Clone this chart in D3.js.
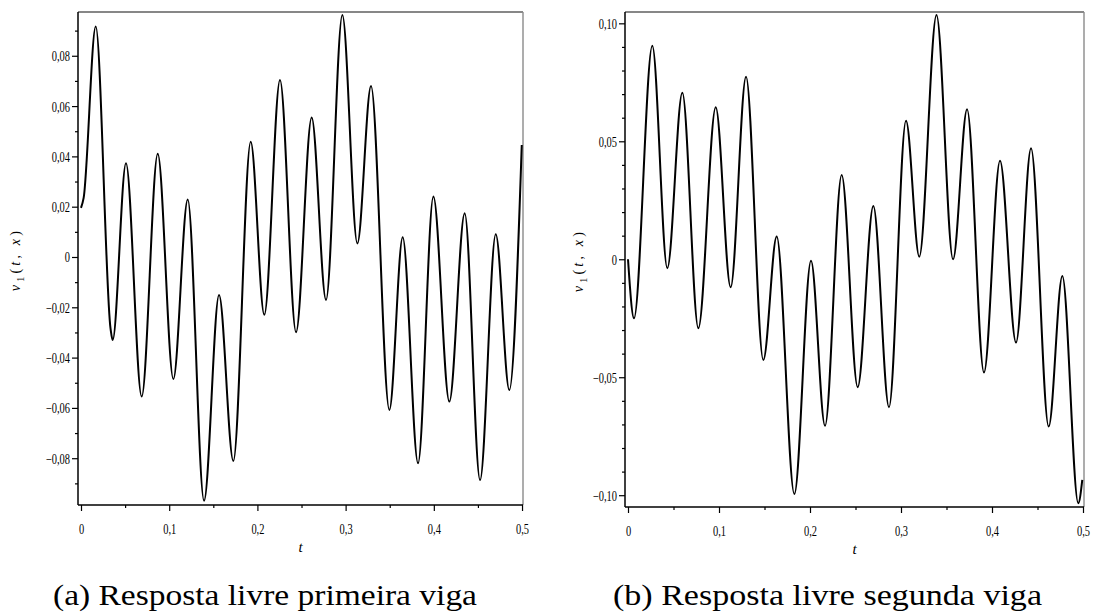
<!DOCTYPE html>
<html>
<head>
<meta charset="utf-8">
<script src="https://cdn.jsdelivr.net/npm/d3@7/dist/d3.min.js"></script>
<style>
  html, body { margin: 0; padding: 0; background: #fff; }
  svg { display: block; }
</style>
</head>
<body>
<svg id="fig" width="1093" height="616"></svg>
<script>
// ---- (a) first beam: free response v1(t, x) ----
const timeA = [0, 0.003, 0.0167, 0.0335, 0.0359, 0.051, 0.0688, 0.087, 0.1047, 0.121,
  0.1395, 0.1565, 0.1727, 0.1924, 0.2078, 0.2256, 0.2438, 0.2615, 0.2778, 0.2963,
  0.3133, 0.3288, 0.3496, 0.3647, 0.3821, 0.3995, 0.4176, 0.435, 0.4524, 0.4702,
  0.4856, 0.4997];
const valueA = [0.0195, 0.0235, 0.0916, -0.0285, -0.033, 0.0373, -0.0555, 0.041, -0.0485, 0.0229,
  -0.0969, -0.0151, -0.0811, 0.0458, -0.023, 0.0704, -0.0299, 0.0555, -0.0171, 0.0962,
  0.0054, 0.068, -0.0608, 0.0078, -0.082, 0.024, -0.0575, 0.0174, -0.0887, 0.009,
  -0.0529, 0.0445];

// ---- (b) second beam: free response v1(t, x) ----
const timeB = [0, 0.0066, 0.0267, 0.0432, 0.0597, 0.0773, 0.0964, 0.1128, 0.1297, 0.1487,
  0.1634, 0.1828, 0.2011, 0.2165, 0.2348, 0.2524, 0.2696, 0.2868, 0.3055, 0.3201,
  0.339, 0.3572, 0.3726, 0.3912, 0.4088, 0.4264, 0.4429, 0.4623, 0.4773, 0.4948,
  0.4992];
const valueB = [0, -0.025, 0.0905, -0.0038, 0.0706, -0.0292, 0.0644, -0.0119, 0.0774, -0.0427,
  0.0096, -0.0995, -0.0006, -0.0706, 0.0357, -0.0542, 0.0226, -0.0627, 0.0587, 0.0011,
  0.1035, 0.0, 0.0636, -0.048, 0.0418, -0.0353, 0.047, -0.0709, -0.0071, -0.1034,
  -0.0935];

// axis extents
const xDomainA = [-0.0034, 0.5011];
const yDomainA = [-0.0986, 0.0974];
const xDomainB = [-0.0033, 0.5011];
const yDomainB = [-0.1050, 0.1048];

// ticks and labels (decimal comma)
const xTicks = [0, 0.1, 0.2, 0.3, 0.4, 0.5];
const xTickLabels = ["0", "0,1", "0,2", "0,3", "0,4", "0,5"];
const xMinorTicks = [0.05, 0.15, 0.25, 0.35, 0.45];

const yTicksA = [-0.08, -0.06, -0.04, -0.02, 0, 0.02, 0.04, 0.06, 0.08];
const yTickLabelsA = ["\u22120,08", "\u22120,06", "\u22120,04", "\u22120,02", "0", "0,02", "0,04", "0,06", "0,08"];
const yMinorA = [-0.09, -0.07, -0.05, -0.03, -0.01, 0.01, 0.03, 0.05, 0.07, 0.09];

const yTicksB = [-0.10, -0.05, 0, 0.05, 0.10];
const yTickLabelsB = ["\u22120,10", "\u22120,05", "0", "0,05", "0,10"];
const yMinorB = [-0.09, -0.08, -0.07, -0.06, -0.04, -0.03, -0.02, -0.01,
  0.01, 0.02, 0.03, 0.04, 0.06, 0.07, 0.08, 0.09];

const captions = ["(a) Resposta livre primeira viga", "(b) Resposta livre segunda viga"];

const svg = d3.select("#fig");
svg.append("rect").attr("width", 1093).attr("height", 616).attr("fill", "#fff");

const SQUEEZE = 0.72;           // condensed tick-label face
const TICK_FONT = "'Liberation Serif', 'Times New Roman', serif";

function panel(cfg) {
  const { box, xDomain, yDomain, times, values, yTicks, yLabels, yMinor, caption, captionX, captionW } = cfg;
  const x = d3.scaleLinear().domain(xDomain).range([box.left, box.right]);
  const y = d3.scaleLinear().domain(yDomain).range([box.bottom, box.top]);
  const g = svg.append("g");

  // frame: top and right edges
  g.append("line").attr("x1", box.left).attr("x2", box.right).attr("y1", box.top).attr("y2", box.top)
    .attr("stroke", "#111").attr("stroke-width", 1.2);
  g.append("line").attr("x1", box.right).attr("x2", box.right).attr("y1", box.top).attr("y2", box.bottom)
    .attr("stroke", "#8a8a8a").attr("stroke-width", 1.4);

  // curve
  const pts = times.map((t, i) => [t, values[i]]);
  g.append("path")
    .datum(pts)
    .attr("fill", "none")
    .attr("stroke", "#000")
    .attr("stroke-width", 2)
    .attr("stroke-linejoin", "round")
    .attr("d", d3.line().x(d => x(d[0])).y(d => y(d[1])).curve(d3.curveMonotoneX));

  // left axis: major + minor ticks
  const yAx = g.append("g").attr("transform", `translate(${box.left},0)`)
    .call(d3.axisLeft(y).tickValues(yTicks).tickFormat((d, i) => yLabels[i]).tickSize(6).tickPadding(2).tickSizeOuter(0));
  g.append("g").attr("transform", `translate(${box.left},0)`)
    .call(d3.axisLeft(y).tickValues(yMinor).tickFormat("").tickSize(3).tickSizeOuter(0))
    .call(s => s.select(".domain").remove());

  // bottom axis: major + minor ticks
  const xAx = g.append("g").attr("transform", `translate(0,${box.bottom})`)
    .call(d3.axisBottom(x).tickValues(xTicks).tickFormat((d, i) => xTickLabels[i]).tickSize(6).tickSizeOuter(0));
  g.append("g").attr("transform", `translate(0,${box.bottom})`)
    .call(d3.axisBottom(x).tickValues(xMinorTicks).tickFormat("").tickSize(3).tickSizeOuter(0))
    .call(s => s.select(".domain").remove());

  g.selectAll(".domain").remove();
  g.selectAll(".tick line").attr("stroke", "#000").attr("stroke-width", 1.2);

  // axis lines
  g.append("line").attr("x1", box.left).attr("x2", box.left).attr("y1", box.top).attr("y2", box.bottom)
    .attr("stroke", "#000").attr("stroke-width", 1.5);
  g.append("line").attr("x1", box.left).attr("x2", box.right).attr("y1", box.bottom).attr("y2", box.bottom)
    .attr("stroke", "#000").attr("stroke-width", 1.5);

  yAx.selectAll(".tick text")
    .attr("x", -8 / SQUEEZE)
    .attr("dy", "0.34em")
    .attr("transform", `scale(${SQUEEZE},1)`)
    .attr("fill", "#000")
    .style("font-family", TICK_FONT).style("font-size", "14.5px");
  xAx.selectAll(".tick text")
    .attr("y", 29).attr("dy", 0)
    .attr("transform", `scale(${SQUEEZE},1)`)
    .attr("fill", "#000")
    .style("font-family", TICK_FONT).style("font-size", "14.5px");

  // axis titles
  const cx = (box.left + box.right) / 2;
  g.append("text").attr("x", cx).attr("y", box.bottom + 47).attr("text-anchor", "middle")
    .style("font-family", TICK_FONT).style("font-style", "italic").style("font-size", "15px")
    .text("t");

  const yl = g.append("text")
    .attr("transform", `translate(${cfg.yLabelX},${(box.top + box.bottom) / 2 + 1}) rotate(-90)`)
    .attr("text-anchor", "middle")
    .style("font-family", TICK_FONT).style("font-size", "14px").style("letter-spacing", "3.2px");
  yl.append("tspan").style("font-style", "italic").text("v");
  yl.append("tspan").attr("dy", 4).style("font-size", "10px").text("1");
  yl.append("tspan").attr("dy", -4).text("(");
  yl.append("tspan").style("font-style", "italic").text("t");
  yl.append("tspan").text(",");
  yl.append("tspan").style("font-style", "italic").text(" x");
  yl.append("tspan").text(")");

  // sub-figure caption
  svg.append("text").attr("x", captionX).attr("y", 605)
    .attr("textLength", captionW).attr("lengthAdjust", "spacingAndGlyphs")
    .style("font-family", "'Liberation Serif', 'Times New Roman', serif").style("font-size", "30px")
    .attr("fill", "#000")
    .text(caption);
}

panel({
  box: { left: 78, right: 523, top: 12, bottom: 505 },
  xDomain: xDomainA, yDomain: yDomainA, times: timeA, values: valueA,
  yTicks: yTicksA, yLabels: yTickLabelsA, yMinor: yMinorA,
  yLabelX: 20, caption: captions[0], captionX: 53, captionW: 424
});
panel({
  box: { left: 625, right: 1084, top: 12, bottom: 507 },
  xDomain: xDomainB, yDomain: yDomainB, times: timeB, values: valueB,
  yTicks: yTicksB, yLabels: yTickLabelsB, yMinor: yMinorB,
  yLabelX: 583, caption: captions[1], captionX: 613, captionW: 429
});
</script>
</body>
</html>
